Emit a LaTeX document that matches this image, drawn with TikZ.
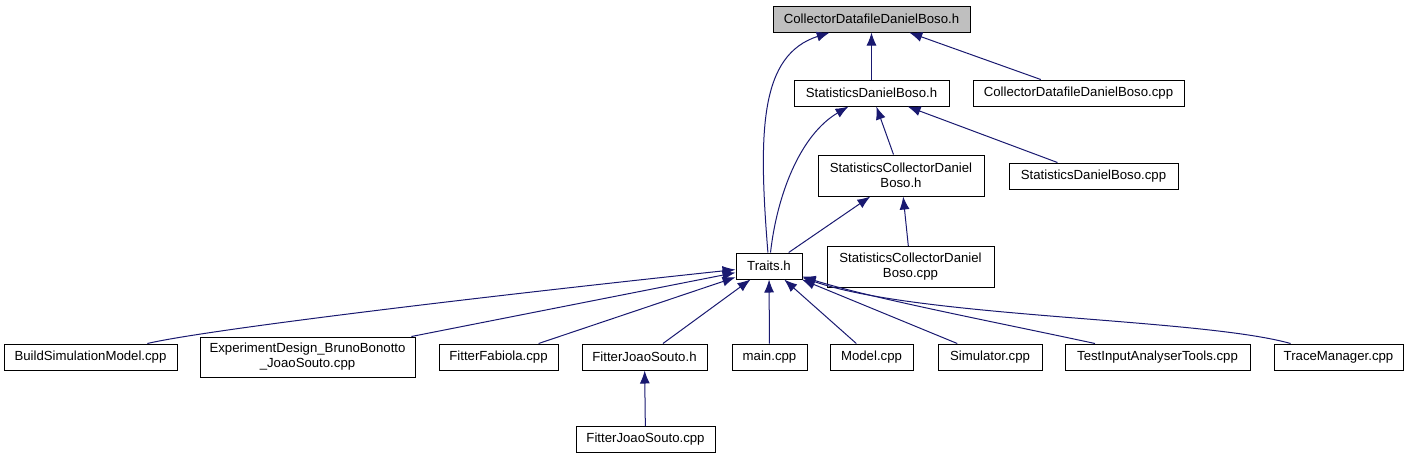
\documentclass[tikz,border=0pt]{standalone}
\usepackage{fontspec}
\setmainfont{Liberation Sans}
\usetikzlibrary{arrows.meta}
\definecolor{edgeblue}{HTML}{191970}
\definecolor{rootgray}{HTML}{BFBFBF}
\tikzset{
  file/.style={draw=black,line width=1pt,inner sep=0pt,minimum height=26pt,align=center,
    font=\fontsize{13.2}{15}\selectfont},
  inc/.style={draw=edgeblue,line width=1pt,-{Latex[length=13pt,width=10pt]}},
}
\begin{document}
\begin{tikzpicture}[x=1pt,y=-1pt]
  \useasboundingbox (0,0) rectangle (1411,459);
  \node[file,fill=rootgray,minimum width=197pt] (coll_h) at (871.5,19) {CollectorDatafileDanielBoso.h};
  \node[file,minimum width=155pt] (stat_h) at (871.5,93) {StatisticsDanielBoso.h};
  \node[file,minimum width=211pt] (coll_cpp) at (1078.5,93) {CollectorDatafileDanielBoso.cpp};
  \node[file,minimum width=166pt,minimum height=41pt] (statcoll_h) at (901,175.5) {StatisticsCollectorDaniel\\Boso.h};
  \node[file,minimum width=169pt] (stat_cpp) at (1093.5,176) {StatisticsDanielBoso.cpp};
  \node[file,minimum width=167pt,minimum height=41pt] (statcoll_cpp) at (910.5,267) {StatisticsCollectorDaniel\\Boso.cpp};
  \node[file,minimum width=66pt] (traits) at (769,266) {Traits.h};
  \node[file,minimum width=173pt] (build) at (90.5,357) {BuildSimulationModel.cpp};
  \node[file,minimum width=215pt,minimum height=40pt] (expdesign) at (307.5,357) {ExperimentDesign\_BrunoBonotto\\\_JoaoSouto.cpp};
  \node[file,minimum width=119pt] (fabiola) at (498.5,357) {FitterFabiola.cpp};
  \node[file,minimum width=125pt] (joao_h) at (644.5,357) {FitterJoaoSouto.h};
  \node[file,minimum width=139pt] (joao_cpp) at (645.5,439.5) {FitterJoaoSouto.cpp};
  \node[file,minimum width=75pt] (main) at (769.5,357) {main.cpp};
  \node[file,minimum width=83pt] (model) at (871.5,357) {Model.cpp};
  \node[file,minimum width=104pt] (simulator) at (990,357) {Simulator.cpp};
  \node[file,minimum width=185pt] (testinput) at (1157.5,357) {TestInputAnalyserTools.cpp};
  \node[file,minimum width=129pt] (trace) at (1338.5,357) {TraceManager.cpp};
  \draw[inc] (stat_h) -- (coll_h);
  \draw[inc] (coll_cpp) -- (coll_h);
  \draw[inc] (traits) .. controls (758,130) and (760,55) .. (coll_h);
  \draw[inc] (traits) .. controls (777,195) and (800,135) .. (stat_h);
  \draw[inc] (statcoll_h) -- (stat_h);
  \draw[inc] (stat_cpp) -- (stat_h);
  \draw[inc] (traits) -- (statcoll_h);
  \draw[inc] (statcoll_cpp) -- (statcoll_h);
  \draw[inc] (build) .. controls (200,331) and (450,300) .. (traits);
  \draw[inc] (expdesign) -- (traits);
  \draw[inc] (fabiola) -- (traits);
  \draw[inc] (joao_h) -- (traits);
  \draw[inc] (main) -- (traits);
  \draw[inc] (model) -- (traits);
  \draw[inc] (simulator) -- (traits);
  \draw[inc] (testinput) .. controls (1000,323) and (870,298) .. (traits);
  \draw[inc] (trace) .. controls (1200,318) and (920,318) .. (traits);
  \draw[inc] (joao_cpp) -- (joao_h);
\end{tikzpicture}
\end{document}
